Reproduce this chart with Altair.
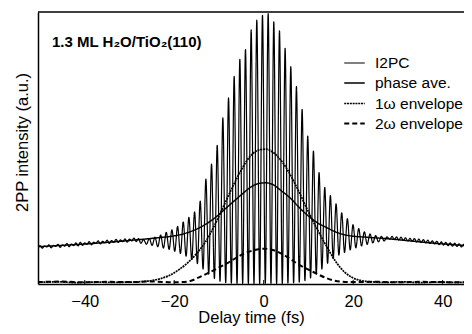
import altair as alt
import pandas as pd

# ---------------- data (delay in fs, intensity in a.u.) -------------
series_order = ["I2PC", "phase ave.", "1ω envelope", "2ω envelope"]

# I2PC: noisy background on the left wing
left_wing_t = [-50.5, -50.0, -49.5, -49.0, -48.5, -48.0, -47.5, -47.0, -46.5, -46.0,
               -45.5, -45.0, -44.5, -44.0, -43.5, -43.0, -42.5, -42.0, -41.5, -41.0,
               -40.5, -40.0, -39.5, -39.0, -38.5, -38.0, -37.5, -37.0, -36.5, -36.0,
               -35.5, -35.0, -34.5, -34.0, -33.5, -33.0, -32.5, -32.0, -31.5, -31.0,
               -30.5, -30.0, -29.5, -29.0, -28.5, -28.0]
left_wing_v = [1.33, 1.41, 1.32, 1.40, 1.36, 1.44, 1.33, 1.42, 1.38, 1.46,
               1.35, 1.44, 1.39, 1.49, 1.37, 1.47, 1.41, 1.51, 1.40, 1.53,
               1.42, 1.51, 1.46, 1.56, 1.44, 1.54, 1.49, 1.59, 1.47, 1.57,
               1.51, 1.61, 1.49, 1.60, 1.53, 1.64, 1.53, 1.62, 1.56, 1.66,
               1.54, 1.65, 1.58, 1.69, 1.56, 1.67]

# I2PC fringes: maxima and minima
peak_t = [-26.84, -25.57, -24.31, -23.04, -21.78, -20.51, -19.25, -17.98, -16.72, -15.45,
          -14.19, -12.92, -11.66, -10.39, -9.13, -7.86, -6.60, -5.33, -4.07, -2.80,
          -1.54, -0.27, 1.00, 2.26, 3.53, 4.79, 6.06, 7.32, 8.59, 9.85,
          11.12, 12.38, 13.65, 14.91, 16.18, 17.44, 18.71, 19.97, 21.24, 22.50,
          23.77, 25.03, 26.30, 27.56]
peak_v = [1.63, 1.67, 1.72, 1.80, 1.90, 1.99, 2.12, 2.28, 2.45, 2.65,
          3.05, 3.86, 4.41, 5.10, 6.11, 6.84, 7.63, 8.26, 8.62, 9.34,
          9.70, 9.88, 9.94, 9.64, 9.31, 8.66, 7.99, 7.26, 6.42, 5.44,
          4.89, 4.10, 3.55, 3.25, 2.95, 2.62, 2.40, 2.18, 2.04, 1.92,
          1.84, 1.78, 1.75, 1.73]
trough_t = [-27.47, -26.20, -24.94, -23.67, -22.41, -21.14, -19.88, -18.61, -17.35, -16.08,
            -14.82, -13.55, -12.29, -11.02, -9.76, -8.49, -7.23, -5.96, -4.70, -3.43,
            -2.17, -0.90, 0.36, 1.63, 2.89, 4.16, 5.42, 6.69, 7.95, 9.22,
            10.48, 11.75, 13.01, 14.28, 15.54, 16.81, 18.07, 19.34, 20.60, 21.87,
            23.13, 24.40, 25.66, 26.93]
trough_v = [1.50, 1.46, 1.42, 1.37, 1.32, 1.27, 1.20, 1.12, 1.02, 0.90,
            0.75, 0.55, 0.36, 0.20, 0.10, 0.05, 0.03, 0.02, 0.02, 0.02,
            0.02, 0.02, 0.02, 0.02, 0.02, 0.02, 0.03, 0.04, 0.07, 0.12,
            0.22, 0.36, 0.55, 0.76, 0.94, 1.06, 1.16, 1.25, 1.33, 1.40,
            1.46, 1.51, 1.55, 1.58]

# I2PC: noisy background on the right wing
right_wing_t = [28.2, 28.7, 29.2, 29.7, 30.2, 30.7, 31.2, 31.7, 32.2, 32.7,
                33.2, 33.7, 34.2, 34.7, 35.2, 35.7, 36.2, 36.7, 37.2, 37.7,
                38.2, 38.7, 39.2, 39.7, 40.2, 40.7, 41.2, 41.7, 42.2, 42.7,
                43.2, 43.7, 44.2, 44.7, 45.2]
right_wing_v = [1.65, 1.75, 1.63, 1.73, 1.62, 1.72, 1.60, 1.70, 1.58, 1.68,
                1.57, 1.67, 1.54, 1.65, 1.53, 1.63, 1.51, 1.61, 1.49, 1.59,
                1.47, 1.57, 1.45, 1.55, 1.43, 1.53, 1.41, 1.51, 1.39, 1.50,
                1.38, 1.48, 1.36, 1.46, 1.35]

# phase averaged trace
phase_t = [-50.5, -45, -40, -35, -30, -26, -23, -20, -17, -14, -11, -8, -5, -3, -1, 0.5,
           2, 4, 6, 8, 10, 12, 14, 16, 19, 23, 28, 33, 38, 42, 46]
phase_v = [1.37, 1.42, 1.47, 1.53, 1.60, 1.66, 1.71, 1.77, 1.89, 2.10, 2.42, 2.85, 3.28, 3.55, 3.70, 3.72,
           3.66, 3.42, 3.15, 2.80, 2.50, 2.25, 2.08, 1.92, 1.78, 1.72, 1.66, 1.58, 1.50, 1.45, 1.40]

# 1ω envelope
env1_t = [-50.5, -46, -42, -38, -34, -30, -27, -25, -23, -21, -19, -17, -15, -13, -11, -9, -7, -5,
          -3, -1, 0.5, 2, 4, 6, 8, 10, 12, 14, 16, 18, 20, 22, 24, 27, 31, 35, 39, 43, 46]
env1_v = [0.06, 0.08, 0.05, 0.07, 0.06, 0.07, 0.09, 0.13, 0.20, 0.32, 0.52, 0.78, 1.12, 1.55, 2.15, 2.85,
          3.55, 4.20, 4.70, 4.93, 4.96, 4.85, 4.52, 4.00, 3.35, 2.65, 2.00, 1.40, 0.85, 0.45, 0.22, 0.12,
          0.08, 0.06, 0.08, 0.05, 0.07, 0.06, 0.07]

# 2ω envelope
env2_t = [-50.5, -45, -40, -35, -30, -25, -20, -17, -14, -11, -8, -5, -2, 0, 2, 5, 8, 11, 14, 17,
          20, 25, 30, 35, 40, 46]
env2_v = [0.07, 0.09, 0.06, 0.08, 0.07, 0.09, 0.06, 0.09, 0.28, 0.52, 0.78, 1.07, 1.25, 1.30, 1.25,
          1.02, 0.70, 0.45, 0.22, 0.09, 0.07, 0.08, 0.06, 0.08, 0.07, 0.06]

tick_values = [-40, -20, 0, 20, 40]
label_text = "1.3 ML H₂O/TiO₂(110)"

# ---------------- assemble table ----------------
fr_t, fr_v = [], []
for i in range(len(peak_t)):
    fr_t += [trough_t[i], peak_t[i]]
    fr_v += [trough_v[i], peak_v[i]]

rows = []
for t, v in zip(left_wing_t + fr_t + right_wing_t, left_wing_v + fr_v + right_wing_v):
    rows.append({"t": t, "v": v, "series": "I2PC"})
for t, v in zip(phase_t, phase_v):
    rows.append({"t": t, "v": v, "series": "phase ave."})
for t, v in zip(env1_t, env1_v):
    rows.append({"t": t, "v": v, "series": "1ω envelope"})
for t, v in zip(env2_t, env2_v):
    rows.append({"t": t, "v": v, "series": "2ω envelope"})
df = pd.DataFrame(rows)

W, H = 426, 272
XDOM = [-50.45, -50.45 + W / 4.4735]

lines = alt.Chart(df).mark_line(interpolate="monotone", clip=True).encode(
    x=alt.X("t:Q",
            scale=alt.Scale(domain=XDOM, nice=False, zero=False),
            axis=alt.Axis(values=tick_values, ticks=False, grid=False, labelPadding=9,
                          title="Delay time (fs)", titlePadding=0, format="d")),
    y=alt.Y("v:Q",
            scale=alt.Scale(domain=[0, 10], nice=False),
            axis=alt.Axis(labels=False, ticks=False, grid=False,
                          title="2PP intensity (a.u.)", titleX=-11, titleY=130,
                          titleBaseline="alphabetic")),
    color=alt.Color("series:N",
                    scale=alt.Scale(domain=series_order, range=["#000000"] * 4),
                    title=None,
                    legend=alt.Legend(orient="none", legendX=305, legendY=40,
                                      symbolType="stroke", symbolSize=420,
                                      labelFontSize=15.5, labelOffset=9, padding=0,
                                      rowPadding=0, labelColor="black")),
    strokeDash=alt.StrokeDash("series:N",
                              scale=alt.Scale(domain=series_order,
                                              range=[[1, 0], [1, 0], [2, 0.8], [5, 3]]),
                              title=None),
    strokeWidth=alt.StrokeWidth("series:N",
                                scale=alt.Scale(domain=series_order, range=[1.2, 2, 2, 1.8]),
                                title=None),
    order=alt.Order("t:Q"),
)

ticks = alt.Chart(pd.DataFrame({"t": tick_values})).mark_rule(color="black", strokeWidth=1).encode(
    x="t:Q", y=alt.value(H), y2=alt.value(H - 4))

top_border = alt.Chart(pd.DataFrame({"t": [0]})).mark_rule(color="black", strokeWidth=1.5).encode(
    x=alt.value(0), x2=alt.value(W + 2), y=alt.value(0))

annot = alt.Chart(pd.DataFrame({"label": [label_text]})).mark_text(
    align="left", baseline="alphabetic", fontWeight="bold", fontSize=15, color="black",
    font="Liberation Sans").encode(text="label:N", x=alt.value(14), y=alt.value(35))

chart = alt.layer(lines, ticks, top_border, annot).properties(
    width=W, height=H,
    autosize=alt.AutoSizeParams(type="none"),
    padding={"left": 30, "top": 4, "right": 0, "bottom": 42},
).configure(font="Liberation Sans").configure_view(
    strokeWidth=0
).configure_axis(
    domainColor="black", domainWidth=1.5, labelColor="black", titleColor="black",
    labelFontSize=16.5, titleFontSize=16.5, titleFontWeight="normal",
    labelFont="Liberation Sans", titleFont="Liberation Sans",
)

chart.save("out.html", embed_options={"renderer": "svg", "actions": False})
